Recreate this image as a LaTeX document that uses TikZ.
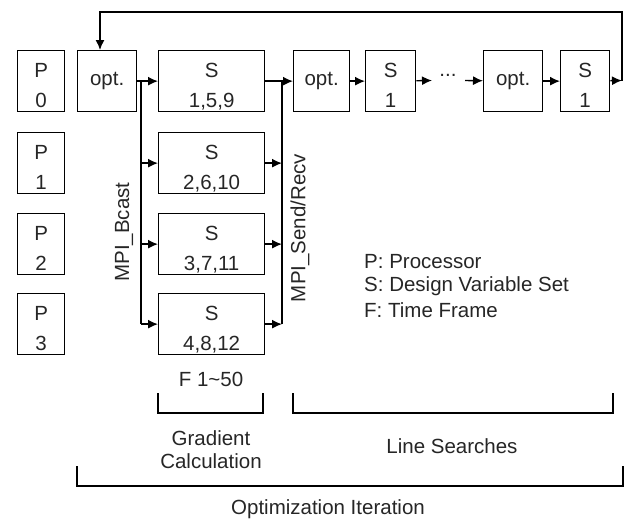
\documentclass[tikz,border=0pt]{standalone}
\usepackage{fontspec}
\setmainfont{Liberation Sans}
\usetikzlibrary{arrows.meta}
\begin{document}
\begin{tikzpicture}[x=1pt,y=-1pt,
  every node/.style={font=\fontsize{20.5}{30}\selectfont, text=black!85},
  bx/.style={draw, line width=1.3pt, inner sep=0pt, anchor=north west, align=center},
  two/.style={text height=56.5pt, text depth=3.5pt},
  ln/.style={line width=1.4pt},
  arr/.style={line width=1.4pt, -{Latex[length=10pt,width=9pt]}},
  lbl/.style={inner sep=0pt}
]
\useasboundingbox (0,0) rectangle (624,520);
% processor boxes
\node[bx, two, minimum width=47pt, minimum height=61pt] (p0) at (17,50) {P\\0};
\node[bx, two, minimum width=47pt, minimum height=61pt] (p1) at (17,132) {P\\1};
\node[bx, two, minimum width=47pt, minimum height=61pt] (p2) at (17,213) {P\\2};
\node[bx, two, minimum width=47pt, minimum height=61pt] (p3) at (17,293) {P\\3};
% gradient column
\node[bx, minimum width=59pt, minimum height=61pt] (o1) at (77,50) {opt.};
\node[bx, two, minimum width=106pt, minimum height=61pt] (s1) at (158,50) {S\\1,5,9};
\node[bx, two, minimum width=106pt, minimum height=61pt] (s2) at (158,132) {S\\2,6,10};
\node[bx, two, minimum width=106pt, minimum height=61pt] (s3) at (158,213) {S\\3,7,11};
\node[bx, two, minimum width=106pt, minimum height=61pt] (s4) at (158,293) {S\\4,8,12};
% line searches
\node[bx, minimum width=56pt, minimum height=61pt] (o2) at (293,50) {opt.};
\node[bx, two, minimum width=50pt, minimum height=61pt] (l1) at (365,50) {S\\1};
\node[bx, minimum width=59pt, minimum height=61pt] (o3) at (483,50) {opt.};
\node[bx, two, minimum width=49pt, minimum height=61pt] (l2) at (560,50) {S\\1};
\node[lbl, anchor=base] (dots) at (448,76) {...};
% coordinates
\coordinate (bt) at (141,80.5);
\coordinate (bb) at (141,323.5);
\coordinate (st) at (282,80.5);
\coordinate (sb) at (282,323.5);
\coordinate (d1) at (432,80.5);
\coordinate (d2) at (465,80.5);
\coordinate (rr) at (622,80.5);
\coordinate (rt) at (622,12);
\coordinate (lt) at (100,12);
% connectors
\draw[arr] (o1) -- (s1);
\draw[ln] (bt) -- (bb);
\draw[arr] (s2.west -| bt) -- (s2.west);
\draw[arr] (s3.west -| bt) -- (s3.west);
\draw[arr] (s4.west -| bt) -- (s4.west);
\draw[arr] (s1) -- (o2);
\draw[ln] (st) -- (sb);
\draw[arr] (s2.east) -- (s2.east -| st);
\draw[arr] (s3.east) -- (s3.east -| st);
\draw[arr] (s4.east) -- (s4.east -| st);
\draw[arr] (o2) -- (l1);
\draw[arr] (l1) -- (d1);
\draw[arr] (d2) -- (o3);
\draw[arr] (o3) -- (l2);
\draw[arr] (l2) -- (rr);
\draw[arr] (rr) -- (rt) -- (lt) -- (lt |- o1.north);
% rotated labels
\node[lbl, rotate=90] (bcast) at (124,232) {MPI\_Bcast};
\node[lbl, rotate=90] (send) at (300,228) {MPI\_Send/Recv};
% legend
\node[lbl, anchor=west] (lgp) at (364,262) {P: Processor};
\node[lbl, anchor=west] (lgs) at (364,286) {S: Design Variable Set};
\node[lbl, anchor=west] (lgf) at (364,310) {F: Time Frame};
% brackets
\node[lbl] (fr) at (211,379) {F 1\textasciitilde 50};
\draw[line width=1.2pt] (158,393) -- (158,413) -- (263,413) -- (263,393);
\draw[line width=1.2pt] (293,393) -- (293,413) -- (613,413) -- (613,393);
\draw[line width=1.2pt] (77,466) -- (77,486) -- (623,486) -- (623,466);
\node[lbl, align=center, font=\fontsize{20.5}{23}\selectfont] (grad) at (211,450) {Gradient\\Calculation};
\node[lbl] (ls) at (452,446) {Line Searches};
\node[lbl] (oi) at (328,509) {Optimization Iteration};
\end{tikzpicture}
\end{document}
